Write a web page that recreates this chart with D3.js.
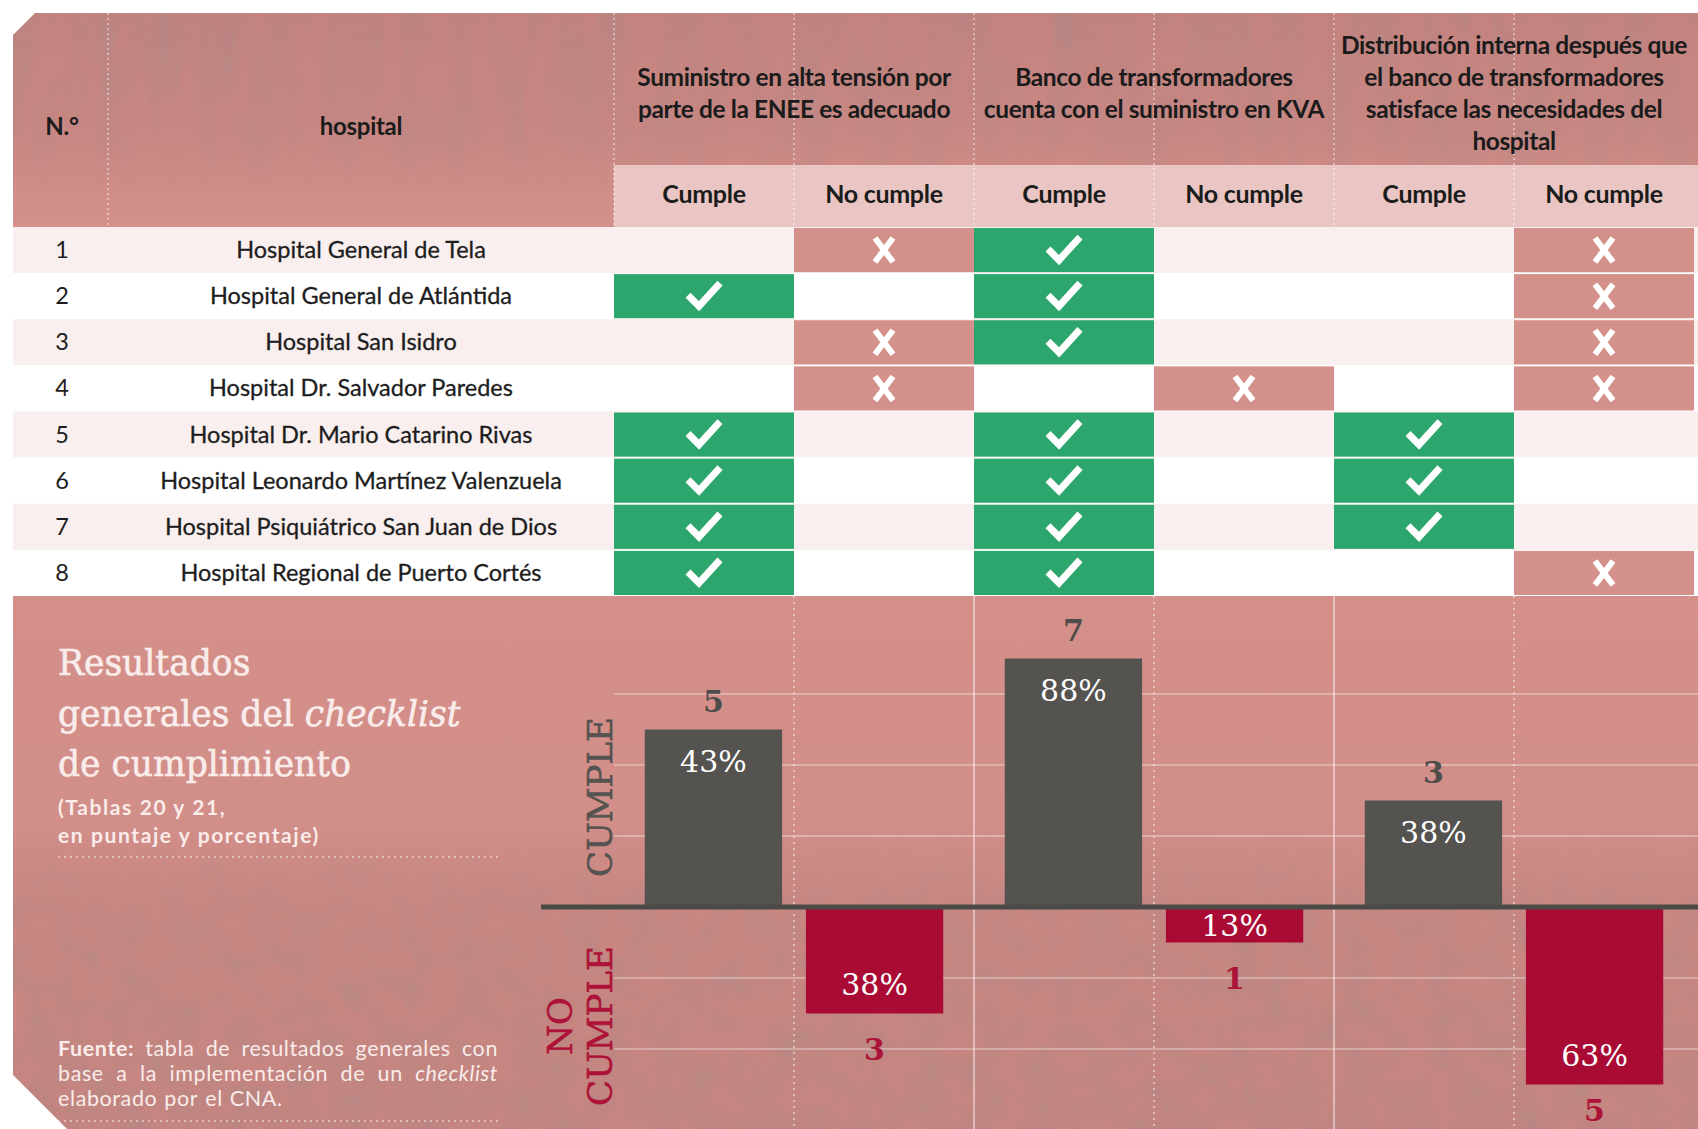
<!DOCTYPE html>
<html>
<head>
<meta charset="utf-8">
<script src="https://cdn.jsdelivr.net/npm/d3@7"></script>
<style>
body { margin: 0; background: #fff; }
svg { display: block; }
</style>
</head>
<body>
<svg id="chart" width="1698" height="1129"></svg>
<script>
// ---- data ----
var hospitals = [
	'Hospital General de Tela',
	'Hospital General de Atlántida',
	'Hospital San Isidro',
	'Hospital Dr. Salvador Paredes',
	'Hospital Dr. Mario Catarino Rivas',
	'Hospital Leonardo Martínez Valenzuela',
	'Hospital Psiquiátrico San Juan de Dios',
	'Hospital Regional de Puerto Cortés'
];
var criteria = [
	['Suministro en alta tensión por', 'parte de la ENEE es adecuado'],
	['Banco de transformadores', 'cuenta con el suministro en KVA'],
	['Distribución interna después que', 'el banco de transformadores', 'satisface las necesidades del', 'hospital']
];
var subLabels = ['Cumple', 'No cumple'];
// 1 = cumple, 0 = no cumple (one value per hospital)
var suministro = [0, 1, 0, 0, 1, 1, 1, 1];
var banco = [1, 1, 1, 0, 1, 1, 1, 1];
var distribucion = [0, 0, 0, 0, 1, 1, 1, 0];
var cumpleCount = [5, 7, 3];
var noCumpleCount = [3, 1, 5];
var cumplePct = ['43%', '88%', '38%'];
var noCumplePct = ['38%', '13%', '63%'];
var gridTicks = [-4, -2, 2, 4, 6];

var checks = [suministro, banco, distribucion];

// ---- layout ----
var W = 1698, H = 1129;
var panelL = 13, headTop = 13, subTop = 165, headBot = 227, rowsBot = 596;
var colsX0 = 614, colsX1 = 1694;
var zeroY = 907, unit = 35.5;

var green = '#2da66e', pink = '#d4908a', dark = '#55534f', red = '#a90b34';
var sans = 'Lato, "Open Sans", sans-serif';
var serif = '"DejaVu Serif", serif';
var ink = '#1b1b1b', paper = '#f9ecea';

var svg = d3.select('#chart');
var defs = svg.append('defs');

defs.append('clipPath').attr('id', 'panel')
	.append('path')
	.attr('d', 'M35,13 L1698,13 L1698,1129 L67,1129 L13,1075 L13,35 Z');

function gradient(id, stops) {
	var g = defs.append('linearGradient').attr('id', id)
		.attr('x1', 0).attr('y1', 0).attr('x2', 0).attr('y2', 1);
	stops.forEach(function(s) {
		g.append('stop').attr('offset', s[0]).attr('stop-color', s[1])
			.attr('stop-opacity', s[2] == null ? 1 : s[2]);
	});
}
gradient('gHead', [[0, '#c4837f'], [0.55, '#c88783'], [0.8, '#d08c87'], [1, '#d4908a']]);
gradient('gChart', [[0, '#d48f89'], [0.42, '#d28e88'], [0.58, '#c98782'], [1, '#c58580']]);
gradient('gFadeHead', [[0, '#fff', 1], [0.6, '#fff', 0.7], [0.85, '#fff', 0]]);
gradient('gFadeChart', [[0, '#fff', 0], [0.45, '#fff', 0], [0.62, '#fff', 1], [1, '#fff', 1]]);

// soft mottled texture
function noiseFilter(id, freq, seed) {
	var f = defs.append('filter').attr('id', id)
		.attr('x', 0).attr('y', 0).attr('width', 1).attr('height', 1);
	f.append('feTurbulence').attr('type', 'fractalNoise')
		.attr('baseFrequency', freq).attr('numOctaves', 3).attr('seed', seed);
	f.append('feColorMatrix').attr('type', 'matrix')
		.attr('values', '0 0 0 0 0.3  0 0 0 0 0.27  0 0 0 0 0.27  0 0 0 -1.8 1.1');
	f.append('feComposite').attr('in2', 'SourceGraphic').attr('operator', 'in');
}
noiseFilter('noiseHead', '0.04 0.01', 4);
noiseFilter('noiseChart', '0.035', 9);

defs.append('mask').attr('id', 'mHead')
	.append('rect').attr('x', 0).attr('y', headTop).attr('width', W).attr('height', headBot - headTop)
	.attr('fill', 'url(#gFadeHead)');
defs.append('mask').attr('id', 'mChart')
	.append('rect').attr('x', 0).attr('y', rowsBot).attr('width', W).attr('height', H - rowsBot)
	.attr('fill', 'url(#gFadeChart)');

var root = svg.append('g').attr('clip-path', 'url(#panel)');

// scales
var xSub = d3.scaleBand().domain(d3.range(6)).range([colsX0, colsX1]);
var xGroup = d3.scaleBand().domain(d3.range(3)).range([colsX0, colsX1]);
var xBar = d3.scaleBand().domain(['c', 'n'])
	.range([0, xGroup.bandwidth()])
	.paddingInner(0.1477).paddingOuter(0.191);
var yRow = d3.scaleBand().domain(d3.range(hospitals.length)).range([headBot, rowsBot]);
var y = d3.scaleLinear().domain([0, 8]).range([zeroY, zeroY - 8 * unit]);

// ---- header ----
root.append('rect').attr('x', panelL).attr('y', headTop)
	.attr('width', W - panelL).attr('height', headBot - headTop)
	.attr('fill', 'url(#gHead)');
root.append('g').attr('mask', 'url(#mHead)')
	.append('rect').attr('x', panelL).attr('y', headTop)
	.attr('width', W - panelL).attr('height', headBot - headTop)
	.attr('fill', '#000').attr('filter', 'url(#noiseHead)').attr('opacity', 0.3);
root.append('rect').attr('x', colsX0).attr('y', subTop)
	.attr('width', W - colsX0).attr('height', headBot - subTop)
	.attr('fill', '#e9c6c3');

var sepX = [108, colsX0].concat(d3.range(1, 6).map(function(i) { return xSub(i); }));
root.selectAll('.hsep').data(sepX).enter().append('line')
	.attr('x1', function(d) { return d; }).attr('x2', function(d) { return d; })
	.attr('y1', headTop).attr('y2', headBot)
	.attr('stroke', '#fff').attr('stroke-opacity', 0.55)
	.attr('stroke-width', 1.5).attr('stroke-dasharray', '2,3');

root.append('text').attr('x', 62).attr('y', 135)
	.attr('text-anchor', 'middle').attr('font-family', sans)
	.attr('font-weight', 700).attr('font-size', 24).attr('fill', ink)
	.attr('letter-spacing', -0.3)
	.text('N.°');
root.append('text').attr('x', 361).attr('y', 135)
	.attr('text-anchor', 'middle').attr('font-family', sans)
	.attr('font-weight', 700).attr('font-size', 24).attr('fill', ink)
	.attr('letter-spacing', -0.3)
	.text('hospital');

criteria.forEach(function(lines, k) {
	var cx = xGroup(k) + xGroup.bandwidth() / 2;
	var t = root.append('text').attr('text-anchor', 'middle')
		.attr('font-family', sans).attr('font-weight', 700)
		.attr('font-size', 24.5).attr('fill', ink)
		.attr('letter-spacing', -0.4);
	lines.forEach(function(s, j) {
		t.append('tspan').attr('x', cx)
			.attr('y', 94 + (j - (lines.length - 1) / 2) * 32 + 8)
			.text(s);
	});
});

root.selectAll('.sub').data(d3.range(6)).enter().append('text')
	.attr('x', function(d) { return xSub(d) + xSub.bandwidth() / 2; })
	.attr('y', 203)
	.attr('text-anchor', 'middle').attr('font-family', sans)
	.attr('font-weight', 700).attr('font-size', 25).attr('fill', ink)
	.attr('letter-spacing', -0.3)
	.text(function(d) { return subLabels[d % 2]; });

// ---- rows ----
root.selectAll('.rowbg').data(hospitals).enter().append('rect')
	.attr('x', panelL).attr('width', W - panelL)
	.attr('y', function(d, i) { return yRow(i); })
	.attr('height', yRow.bandwidth())
	.attr('fill', function(d, i) { return i % 2 ? '#ffffff' : '#f9efee'; });

root.selectAll('.num').data(hospitals).enter().append('text')
	.attr('x', 62).attr('y', function(d, i) { return yRow(i) + yRow.bandwidth() / 2 + 8; })
	.attr('text-anchor', 'middle').attr('font-family', sans)
	.attr('font-size', 23.5).attr('fill', '#1d1d1d')
	.text(function(d, i) { return i + 1; });
root.selectAll('.name').data(hospitals).enter().append('text')
	.attr('x', 361).attr('y', function(d, i) { return yRow(i) + yRow.bandwidth() / 2 + 8; })
	.attr('text-anchor', 'middle').attr('font-family', sans)
	.attr('font-size', 23.5).attr('fill', '#1d1d1d')
	.attr('stroke', '#1d1d1d').attr('stroke-width', 0.3)
	.text(function(d) { return d; });

var cells = [];
checks.forEach(function(arr, k) {
	arr.forEach(function(v, i) {
		cells.push({col: k * 2 + (v ? 0 : 1), row: i, ok: v === 1});
	});
});
var cell = root.selectAll('.cell').data(cells).enter().append('g')
	.attr('transform', function(d) {
		return 'translate(' + xSub(d.col) + ',' + yRow(d.row) + ')';
	});
cell.append('rect')
	.attr('y', 1).attr('width', xSub.bandwidth()).attr('height', yRow.bandwidth() - 2)
	.attr('fill', function(d) { return d.ok ? green : pink; });
cell.append('path')
	.attr('transform', 'translate(' + xSub.bandwidth() / 2 + ',' + yRow.bandwidth() / 2 + ')')
	.attr('d', function(d) {
		return d.ok ? 'M-16,-1 L-5,10 L16,-13' : 'M-9,-12 L9,12 M9,-12 L-9,12';
	})
	.attr('fill', 'none').attr('stroke', '#fff')
	.attr('stroke-width', function(d) { return d.ok ? 7 : 6; })
	.attr('stroke-linejoin', 'miter');

// ---- chart section ----
root.append('rect').attr('x', panelL).attr('y', rowsBot)
	.attr('width', W - panelL).attr('height', H - rowsBot)
	.attr('fill', 'url(#gChart)');
root.append('g').attr('mask', 'url(#mChart)')
	.append('rect').attr('x', panelL).attr('y', rowsBot)
	.attr('width', W - panelL).attr('height', H - rowsBot)
	.attr('fill', '#000').attr('filter', 'url(#noiseChart)').attr('opacity', 0.3);

root.selectAll('.grid').data(gridTicks).enter().append('line')
	.attr('x1', colsX0).attr('x2', W)
	.attr('y1', function(d) { return y(d); }).attr('y2', function(d) { return y(d); })
	.attr('stroke', '#fff').attr('stroke-opacity', 0.3).attr('stroke-width', 2);

root.selectAll('.vsep').data(d3.range(1, 6)).enter().append('line')
	.attr('x1', function(d) { return xSub(d); }).attr('x2', function(d) { return xSub(d); })
	.attr('y1', rowsBot).attr('y2', H)
	.attr('stroke', '#fff')
	.attr('stroke-opacity', function(d) { return d % 2 ? 0.6 : 0.45; })
	.attr('stroke-width', function(d) { return d % 2 ? 1.5 : 2; })
	.attr('stroke-dasharray', function(d) { return d % 2 ? '2,4' : null; });

var bars = [];
cumpleCount.forEach(function(v, k) {
	bars.push({g: k, s: 'c', v: v, pct: cumplePct[k]});
	bars.push({g: k, s: 'n', v: -noCumpleCount[k], pct: noCumplePct[k]});
});
var bar = root.selectAll('.bar').data(bars).enter().append('g');
bar.append('rect')
	.attr('x', function(d) { return xGroup(d.g) + xBar(d.s); })
	.attr('width', xBar.bandwidth())
	.attr('y', function(d) { return Math.min(y(d.v), y(0)); })
	.attr('height', function(d) { return Math.abs(y(d.v) - y(0)); })
	.attr('fill', function(d) { return d.v > 0 ? dark : red; });

root.append('line').attr('x1', 541).attr('x2', W)
	.attr('y1', zeroY).attr('y2', zeroY)
	.attr('stroke', '#4c4a47').attr('stroke-width', 5);

function barCx(d) { return xGroup(d.g) + xBar(d.s) + xBar.bandwidth() / 2; }
bar.append('text')
	.attr('x', barCx)
	.attr('y', function(d) {
		return d.v > 0 ? y(d.v) - 18 : Math.min(y(d.v) + 46, H - 8);
	})
	.attr('text-anchor', 'middle').attr('font-family', serif)
	.attr('font-weight', 700).attr('font-size', 30)
	.attr('fill', function(d) { return d.v > 0 ? '#4f4d4a' : '#ad1238'; })
	.text(function(d) { return Math.abs(d.v); });
bar.append('text')
	.attr('x', barCx)
	.attr('y', function(d) {
		if (d.v > 0) return y(d.v) + 42;
		var b = y(d.v), mid = (b + y(0)) / 2;
		return Math.max(b - 30, mid) + 11;
	})
	.attr('text-anchor', 'middle').attr('font-family', serif)
	.attr('font-size', 30).attr('fill', '#fff')
	.text(function(d) { return d.pct; });

root.append('text')
	.attr('transform', 'translate(612,797) rotate(-90)')
	.attr('text-anchor', 'middle').attr('font-family', serif)
	.attr('font-size', 34).attr('fill', '#55534f')
	.attr('stroke', '#55534f').attr('stroke-width', 0.6)
	.text('CUMPLE');
var nc = root.append('text')
	.attr('transform', 'translate(0,1026) rotate(-90)')
	.attr('text-anchor', 'middle').attr('font-family', serif)
	.attr('font-size', 34).attr('fill', '#ad1238')
	.attr('stroke', '#ad1238').attr('stroke-width', 0.6);
nc.append('tspan').attr('x', 0).attr('y', 572).text('NO');
nc.append('tspan').attr('x', 0).attr('y', 612).text('CUMPLE');

// ---- title and source ----
var title = root.append('text').attr('font-family', serif)
	.attr('font-size', 34.5).attr('fill', paper)
	.attr('stroke', paper).attr('stroke-width', 0.6);
title.append('tspan').attr('x', 58).attr('y', 675).text('Resultados');
title.append('tspan').attr('x', 58).attr('y', 726).text('generales del ');
title.append('tspan').attr('font-style', 'italic').text('checklist');
title.append('tspan').attr('x', 58).attr('y', 776).text('de cumplimiento');

var sub = root.append('text').attr('font-family', sans)
	.attr('font-weight', 700).attr('font-size', 21).attr('fill', paper)
	.attr('letter-spacing', 1.6);
sub.append('tspan').attr('x', 58).attr('y', 815).text('(Tablas 20 y 21,');
sub.append('tspan').attr('x', 58).attr('y', 843).text('en puntaje y porcentaje)');

root.selectAll('.dots').data([857, 1121]).enter().append('line')
	.attr('x1', 58).attr('x2', 498)
	.attr('y1', function(d) { return d; }).attr('y2', function(d) { return d; })
	.attr('stroke', '#fff').attr('stroke-opacity', 0.6)
	.attr('stroke-width', 1.5).attr('stroke-dasharray', '2,4');

var source = [
	[['Fuente:', 700, 'normal'], ['tabla'], ['de'], ['resultados'], ['generales'], ['con']],
	[['base'], ['a'], ['la'], ['implementación'], ['de'], ['un'], ['checklist', 400, 'italic']],
	[['elaborado'], ['por'], ['el'], ['CNA.']]
];
source.forEach(function(words, li) {
	var yy = 1056 + li * 25;
	var nodes = words.map(function(w) {
		return root.append('text').attr('y', yy)
			.attr('font-family', sans).attr('font-size', 21.5)
			.attr('font-weight', w[1] || 400).attr('font-style', w[2] || 'normal')
			.attr('letter-spacing', 0.6)
			.attr('fill', paper).text(w[0]);
	});
	var widths = nodes.map(function(n) { return n.node().getComputedTextLength(); });
	var gap = li < 2 ? (498 - 58 - d3.sum(widths)) / (words.length - 1) : 7;
	var x = 58;
	nodes.forEach(function(n, i) {
		n.attr('x', x);
		x += widths[i] + gap;
	});
});
</script>
</body>
</html>
